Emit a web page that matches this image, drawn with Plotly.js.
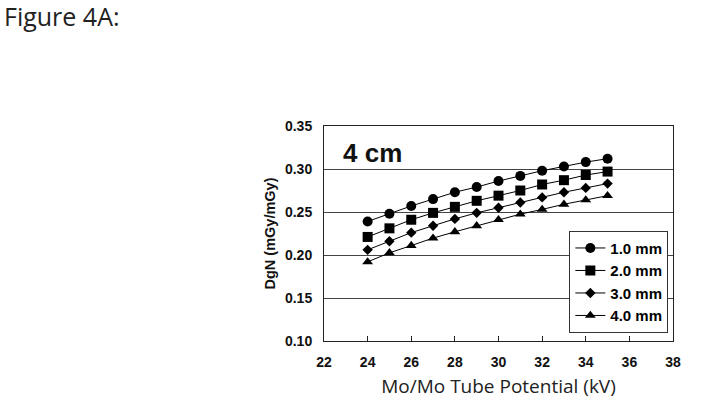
<!DOCTYPE html>
<html><head><meta charset="utf-8">
<script src="https://cdn.plot.ly/plotly-3.0.1.min.js"></script>
<style>html,body{margin:0;padding:0;background:#fff}</style>
</head><body>
<div id="chart" style="width:706px;height:408px"></div>
<script>
const kv = [24,25,26,27,28,29,30,31,32,33,34,35];
const seriesNames = ['1.0 mm','2.0 mm','3.0 mm','4.0 mm'];
const mm1 = [0.239,0.248,0.257,0.265,0.273,0.279,0.286,0.292,0.298,0.303,0.308,0.312];
const mm2 = [0.221,0.231,0.241,0.249,0.256,0.263,0.269,0.275,0.282,0.287,0.293,0.297];
const mm3 = [0.206,0.216,0.226,0.234,0.242,0.249,0.255,0.261,0.267,0.273,0.278,0.283];
const mm4 = [0.192,0.2025,0.211,0.2196,0.227,0.234,0.241,0.2475,0.253,0.259,0.264,0.269];
const xTicks = [22,24,26,28,30,32,34,36,38];
const yTicks = [0.10,0.15,0.20,0.25,0.30,0.35];

const symbols = ['circle','square','diamond','triangle-up'];
const sizes = [10,10,8,9.5];
const all = [mm1,mm2,mm3,mm4];
const traces = all.map((ys,i)=>({
  x: kv, y: ys, name: seriesNames[i], type:'scatter', mode:'lines+markers',
  line:{color:'#000', width:1},
  marker:{symbol:symbols[i], size:sizes[i], color:'#000'}
}));

const layout = {
  width:706, height:408,
  paper_bgcolor:'#fff', plot_bgcolor:'#fff',
  margin:{l:324, r:33, t:126, b:67},
  showlegend:true,
  legend:{x:0.703, y:0.513, xanchor:'left', yanchor:'top',
    bordercolor:'#333', borderwidth:1, bgcolor:'#fff',
    font:{family:'Liberation Sans, Arial', size:15, weight:'bold', color:'#000'},
    tracegroupgap:0, itemwidth:30},
  xaxis:{range:[22,38], tickvals:xTicks, ticktext:xTicks.map(String),
    showgrid:false, zeroline:false, showline:true, linecolor:'#222', linewidth:1, mirror:true,
    ticks:'inside', ticklen:5, tickcolor:'#222', ticklabelstandoff:8,
    tickfont:{family:'Liberation Sans, Arial', size:14, weight:'bold', color:'#111'},
    title:{text:'Mo/Mo Tube Potential (kV)', standoff:10,
      font:{family:'Open Sans, Noto Sans', size:19, color:'#222'}}},
  yaxis:{range:[0.10,0.35], tickvals:yTicks, ticktext:yTicks.map(v=>v.toFixed(2)),
    showgrid:true, gridcolor:'#444', gridwidth:1, zeroline:false,
    showline:true, linecolor:'#222', linewidth:1, mirror:true,
    ticks:'', ticklabelstandoff:8,
    tickfont:{family:'Liberation Sans, Arial', size:14, weight:'bold', color:'#111'},
    title:{text:'DgN (mGy/mGy)', standoff:5,
      font:{family:'Liberation Sans, Arial', size:14.5, weight:'bold', color:'#111'}}},
  annotations:[
    {text:'Figure 4A:', xref:'paper', yref:'paper', x:-324/349, y:1+126/215, xanchor:'left', yanchor:'top',
      xshift:2, yshift:3, showarrow:false, font:{family:'Open Sans, Noto Sans', size:25, color:'#222'}},
    {text:'4 cm', xref:'paper', yref:'paper', x:0.05, y:0.953, xanchor:'left', yanchor:'top',
      showarrow:false, font:{family:'Liberation Sans, Arial', size:26, weight:'bold', color:'#111'}}
  ]
};
Plotly.newPlot('chart', traces, layout, {displayModeBar:false, staticPlot:true});
</script>
</body></html>
